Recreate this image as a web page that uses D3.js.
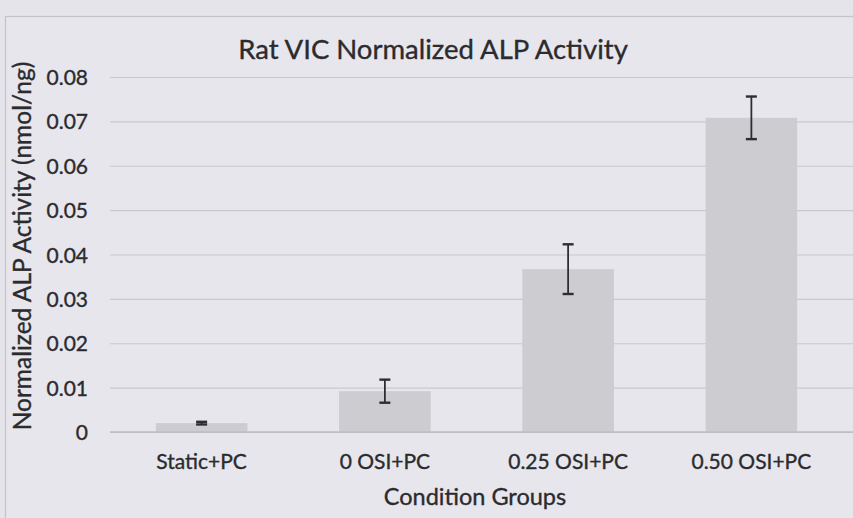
<!DOCTYPE html>
<html><head><meta charset="utf-8">
<script src="https://cdn.jsdelivr.net/npm/d3@7"></script>
<style>
html,body{margin:0;padding:0;background:#e5e4ea;}
svg{display:block;}
</style></head>
<body>
<svg id="c" width="853" height="518"></svg>
<script>
const categories = ["Static+PC", "0 OSI+PC", "0.25 OSI+PC", "0.50 OSI+PC"];
const values = [0.002, 0.0092, 0.0367, 0.0708];
const errors = [0.0003, 0.0026, 0.0056, 0.0048];
const yTicks = [0, 0.01, 0.02, 0.03, 0.04, 0.05, 0.06, 0.07, 0.08];
const title = "Rat VIC Normalized ALP Activity";
const xTitle = "Condition Groups";
const yTitle = "Normalized ALP Activity (nmol/ng)";

const svg = d3.select("#c");
const W = 853, H = 518;
const m = {left: 110, right: 853, top: 77, bottom: 432};
const font = "Lato, 'Open Sans', sans-serif";
const txt = "#2b2b2e";

svg.append("rect").attr("width", W).attr("height", H).attr("fill", "#e5e4ea");
// chart border
svg.append("rect").attr("x", 5.5).attr("y", 16.5).attr("width", 900).attr("height", 600)
  .attr("fill", "#e7e6ec").attr("stroke", "#c4c3ca").attr("stroke-width", 1.2);

const x = d3.scaleBand().domain(categories).range([110, 843]).paddingInner(0.5).paddingOuter(0.25);
const y = d3.scaleLinear().domain([0, 0.08]).range([m.bottom, m.top]);

function styleText(sel, size) {
  sel.attr("font-family", font).attr("font-size", size).attr("fill", txt)
    .attr("stroke", txt).attr("stroke-width", 0.35);
}

// gridlines
const yAxis = d3.axisLeft(y).tickValues(yTicks).tickSize(-(m.right - m.left)).tickFormat(d => d === 0 ? "0" : d3.format(".2f")(d));
const gy = svg.append("g").attr("transform", `translate(${m.left},0)`).call(yAxis);
gy.select(".domain").remove();
gy.selectAll(".tick line").attr("stroke", "#c9c8ce").attr("stroke-width", 1.2);
gy.selectAll(".tick text").attr("x", -22).attr("dy", "0.36em").call(styleText, 21);

// bars
svg.append("g").selectAll("rect").data(values).join("rect")
  .attr("x", (d, i) => x(categories[i]))
  .attr("y", d => y(d))
  .attr("width", x.bandwidth())
  .attr("height", d => y(0) - y(d))
  .attr("fill", "#cdcdd1");

// zero line
svg.append("line").attr("x1", m.left).attr("x2", m.right).attr("y1", y(0)).attr("y2", y(0))
  .attr("stroke", "#bdbcc3").attr("stroke-width", 1.4);

// error bars
const eb = svg.append("g").attr("stroke", "#2e2e32").attr("stroke-width", 1.8);
values.forEach((v, i) => {
  const cx = x(categories[i]) + x.bandwidth() / 2;
  const y1 = y(v + errors[i]), y2 = y(v - errors[i]);
  eb.append("line").attr("x1", cx).attr("x2", cx).attr("y1", y1).attr("y2", y2);
  eb.append("line").attr("x1", cx - 5.5).attr("x2", cx + 5.5).attr("y1", y1).attr("y2", y1).attr("stroke-width", 2.4);
  eb.append("line").attr("x1", cx - 5.5).attr("x2", cx + 5.5).attr("y1", y2).attr("y2", y2).attr("stroke-width", 2.4);
});

// x labels
const xAxis = d3.axisBottom(x).tickSize(0);
const gx = svg.append("g").attr("transform", `translate(0,${m.bottom})`).call(xAxis);
gx.select(".domain").remove();
gx.selectAll(".tick text").attr("y", 37).attr("dy", 0).call(styleText, 21);

svg.append("text").attr("x", 433).attr("y", 59).attr("text-anchor", "middle")
  .call(styleText, 27.5).text(title);
svg.append("text").attr("x", 475).attr("y", 505).attr("text-anchor", "middle")
  .call(styleText, 23.5).text(xTitle);
svg.append("text").attr("transform", "translate(31,246) rotate(-90)").attr("text-anchor", "middle")
  .call(styleText, 24.5).text(yTitle);
</script>
</body></html>
